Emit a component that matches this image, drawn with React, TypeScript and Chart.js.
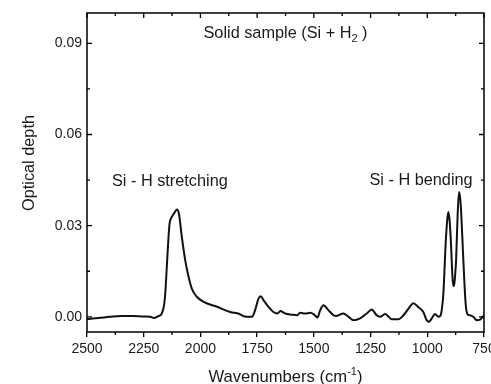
import React, { useEffect, useRef } from 'react';
import { Chart, registerables } from 'chart.js';

Chart.register(...registerables);

const wavenumbers = [
  2500, 2450, 2400, 2350, 2300, 2250, 2221, 2205, 2185, 2170, 2160, 2155, 2150, 2145, 2140, 2136, 2126, 2115, 2104, 2095,
  2082, 2067, 2052, 2038, 2016, 1986, 1927, 1869, 1830, 1810, 1785, 1773, 1759, 1744, 1734, 1722, 1700, 1678, 1660, 1648,
  1626, 1597, 1575, 1560, 1538, 1516, 1500, 1484, 1472, 1458, 1436, 1413, 1400, 1370, 1347, 1325, 1296, 1267, 1245, 1223,
  1208, 1186, 1170, 1157, 1127, 1105, 1083, 1061, 1040, 1017, 1003, 993, 980, 966, 951, 941, 935, 929, 919, 912,
  907, 902, 897, 888, 882, 877, 873, 866, 860, 855, 851, 841, 831, 823, 812, 797, 782, 767, 756, 750,
];

const opticalDepth = [
  -0.0007, -0.0004, 0.0, 0.0003, 0.0003, 0.0001, 0.0, -0.0004, 0.0002, 0.0011, 0.004, 0.0077, 0.014, 0.0208, 0.027, 0.0307, 0.0329, 0.0342, 0.0353, 0.034,
  0.0263, 0.0186, 0.0131, 0.0093, 0.0066, 0.0049, 0.0033, 0.0016, 0.001, 0.0002, 0.0, 0.0, 0.0022, 0.006, 0.0068, 0.0055, 0.0033, 0.0016, 0.0011, 0.0019,
  0.0011, 0.0007, 0.0005, 0.0013, 0.0011, 0.0013, 0.0008, -0.0002, 0.0022, 0.0038, 0.0022, 0.0005, 0.0003, 0.0011, 0.0, -0.0011, -0.0005, 0.0011, 0.0024, 0.0005,
  0.0, 0.0009, 0.0, -0.0008, -0.0008, 0.0005, 0.0027, 0.0045, 0.0032, 0.0015, -0.0011, -0.0016, -0.0005, 0.0009, 0.0, 0.0005, 0.003, 0.0077, 0.0241, 0.032,
  0.0345, 0.032, 0.0263, 0.012, 0.0101, 0.014, 0.0186, 0.034, 0.0411, 0.039, 0.035, 0.0186, 0.0044, 0.0009, 0.0005, 0.0, -0.0011, -0.0009, 0.0, 0.0005,
];

const xTickValues = [2500, 2250, 2000, 1750, 1500, 1250, 1000, 750];
const xMinorTickValues = [2375, 2125, 1875, 1625, 1375, 1125, 875];
const yTickValues = [0, 0.03, 0.06, 0.09];
const yMinorTickValues = [0.015, 0.045, 0.075];

const chartTitle = 'Solid sample (Si + H';
const chartTitleSub = '2';
const chartTitleEnd = ' )';
const xTitle = 'Wavenumbers (cm';
const xTitleSup = '-1';
const xTitleEnd = ')';
const yTitle = 'Optical depth';
const stretchLabel = 'Si - H stretching';
const bendLabel = 'Si - H bending';

const FONT = '"Liberation Sans", Arial, sans-serif';
const TEXT = '#1a1a1a';

const decorPlugin = {
  id: 'decor',
  afterDatasetsDraw(chart: any) {
    const { ctx, chartArea: a, scales } = chart;
    const xs = scales.x;
    const ys = scales.y;
    ctx.save();
    ctx.strokeStyle = '#000';
    ctx.lineWidth = 1.5;
    ctx.strokeRect(a.left, a.top, a.right - a.left, a.bottom - a.top);

    ctx.lineWidth = 1.3;
    ctx.beginPath();
    for (const v of xTickValues) {
      const px = xs.getPixelForValue(v);
      ctx.moveTo(px, a.top);
      ctx.lineTo(px, a.top + 5);
    }
    for (const v of xMinorTickValues) {
      const px = xs.getPixelForValue(v);
      ctx.moveTo(px, a.top);
      ctx.lineTo(px, a.top + 3);
      ctx.moveTo(px, a.bottom);
      ctx.lineTo(px, a.bottom + 3);
    }
    for (const v of yTickValues) {
      const py = ys.getPixelForValue(v);
      ctx.moveTo(a.left, py);
      ctx.lineTo(a.left + 5, py);
      ctx.moveTo(a.right, py);
      ctx.lineTo(a.right - 5, py);
    }
    for (const v of yMinorTickValues) {
      const py = ys.getPixelForValue(v);
      ctx.moveTo(a.left, py);
      ctx.lineTo(a.left + 3, py);
      ctx.moveTo(a.right, py);
      ctx.lineTo(a.right - 3, py);
    }
    ctx.stroke();

    ctx.fillStyle = TEXT;
    ctx.textBaseline = 'alphabetic';
    ctx.textAlign = 'left';

    // chart title with subscript
    const big = `16.3px ${FONT}`;
    const small = `11px ${FONT}`;
    ctx.font = big;
    const w1 = ctx.measureText(chartTitle).width;
    const w3 = ctx.measureText(chartTitleEnd).width;
    ctx.font = small;
    const w2 = ctx.measureText(chartTitleSub).width;
    const cx = (a.left + a.right) / 2;
    let tx = cx - (w1 + w2 + w3) / 2;
    const tb = a.top + 24.5;
    ctx.font = big;
    ctx.fillText(chartTitle, tx, tb);
    tx += w1;
    ctx.font = small;
    ctx.fillText(chartTitleSub, tx, tb + 4);
    tx += w2;
    ctx.font = big;
    ctx.fillText(chartTitleEnd, tx, tb);

    // annotations
    ctx.font = big;
    ctx.fillText(stretchLabel, xs.getPixelForValue(2390), ys.getPixelForValue(0.043));
    ctx.fillText(bendLabel, xs.getPixelForValue(1255), ys.getPixelForValue(0.0435));

    // x title with superscript
    const tf = `16.6px ${FONT}`;
    ctx.font = tf;
    const a1 = ctx.measureText(xTitle).width;
    const a3 = ctx.measureText(xTitleEnd).width;
    ctx.font = small;
    const a2 = ctx.measureText(xTitleSup).width;
    let xx = cx - (a1 + a2 + a3) / 2;
    const xb = 381.5;
    ctx.font = tf;
    ctx.fillText(xTitle, xx, xb);
    xx += a1;
    ctx.font = small;
    ctx.fillText(xTitleSup, xx, xb - 7);
    xx += a2;
    ctx.font = tf;
    ctx.fillText(xTitleEnd, xx, xb);

    // y title
    ctx.save();
    ctx.translate(34, 163);
    ctx.rotate(-Math.PI / 2);
    ctx.textAlign = 'center';
    ctx.font = `16.3px ${FONT}`;
    ctx.fillText(yTitle, 0, 0);
    ctx.restore();

    ctx.restore();
  },
};

export default function App() {
  const ref = useRef<HTMLCanvasElement | null>(null);

  useEffect(() => {
    if (!ref.current) return;
    const data = wavenumbers.map((w, i) => ({ x: w, y: opticalDepth[i] }));
    const chart = new Chart(ref.current, {
      type: 'line',
      data: {
        datasets: [
          {
            data,
            borderColor: '#111',
            borderWidth: 2,
            pointRadius: 0,
            fill: false,
            cubicInterpolationMode: 'monotone',
          },
        ],
      },
      options: {
        responsive: false,
        animation: false,
        layout: { padding: { top: 13, right: 7, left: 0, bottom: 0 } },
        plugins: { legend: { display: false }, tooltip: { enabled: false }, title: { display: false } },
        scales: {
          x: {
            type: 'linear',
            position: 'bottom',
            reverse: true,
            min: 750,
            max: 2500,
            afterBuildTicks: (axis: any) => {
              axis.ticks = xTickValues.map((v) => ({ value: v }));
            },
            afterFit: (axis: any) => {
              axis.height = 52;
              axis.paddingLeft = 0;
              axis.paddingRight = 0;
            },
            ticks: {
              autoSkip: false,
              maxRotation: 0,
              padding: 4,
              color: TEXT,
              font: { family: FONT, size: 14 },
              callback: (v: any) => String(v),
            },
            grid: {
              display: true,
              drawOnChartArea: false,
              drawTicks: true,
              tickLength: 5,
              color: '#000',
              lineWidth: 1.3,
            },
            border: { display: false },
          },
          y: {
            type: 'linear',
            position: 'left',
            min: -0.005,
            max: 0.1,
            afterBuildTicks: (axis: any) => {
              axis.ticks = yTickValues.map((v) => ({ value: v }));
            },
            afterFit: (axis: any) => {
              axis.width = 87;
              axis.paddingTop = 0;
              axis.paddingBottom = 0;
            },
            ticks: {
              padding: 5,
              color: TEXT,
              font: { family: FONT, size: 14 },
              callback: (v: any) => Number(v).toFixed(2),
            },
            grid: { display: false, drawTicks: false },
            border: { display: false },
          },
        },
      },
      plugins: [decorPlugin],
    });
    return () => chart.destroy();
  }, []);

  return (
    <div style={{ position: 'fixed', left: 0, top: 0, width: 491, height: 384, background: '#fff' }}>
      <canvas ref={ref} width={491} height={384} />
    </div>
  );
}
